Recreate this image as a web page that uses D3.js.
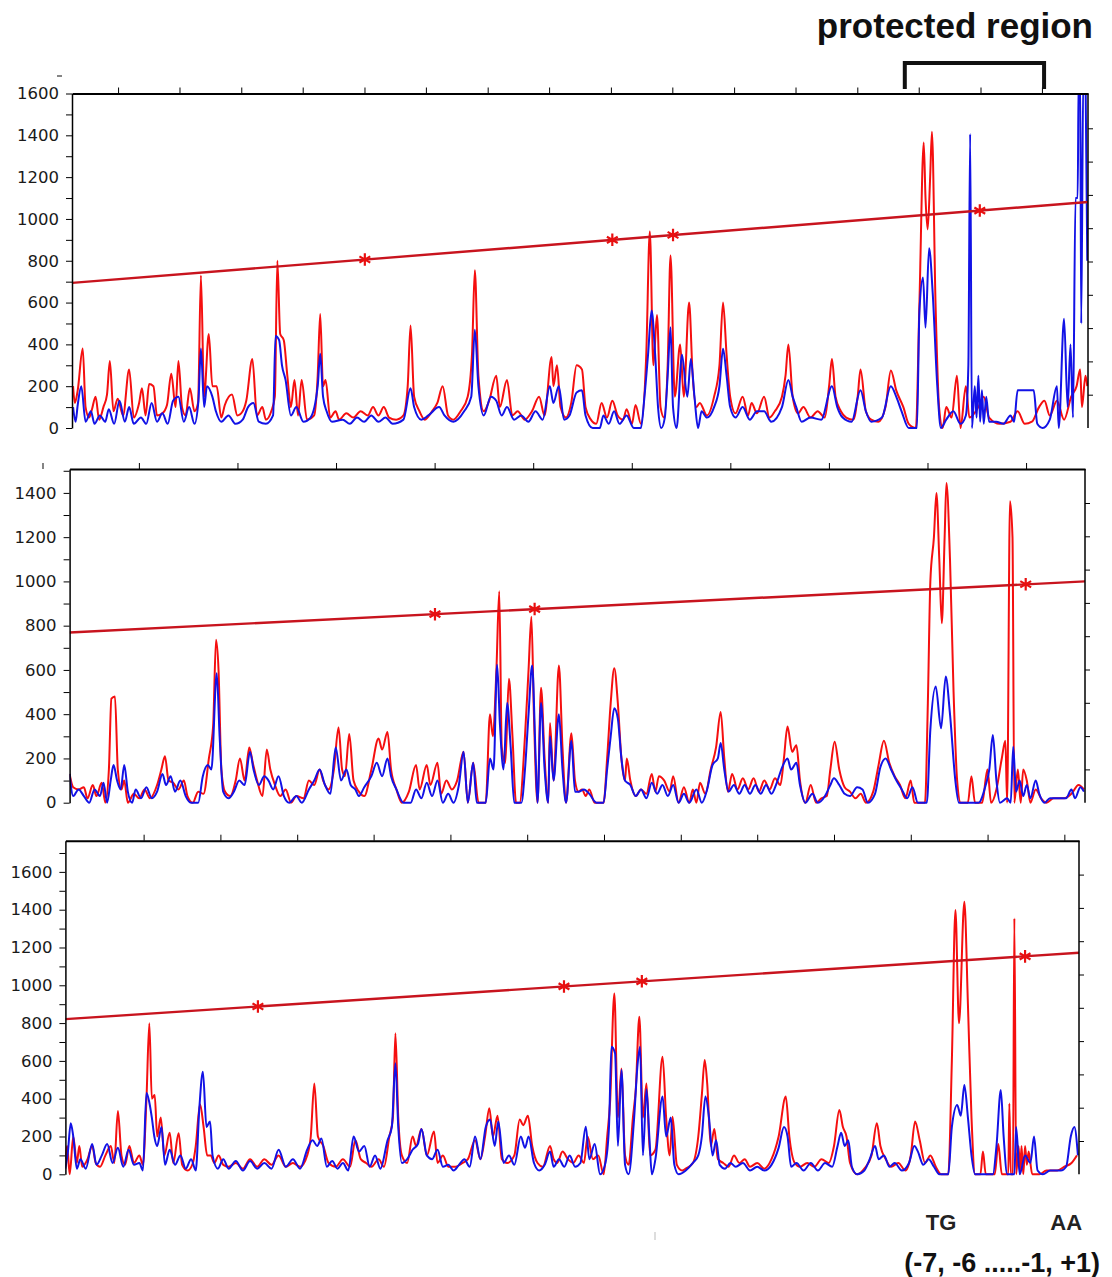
<!DOCTYPE html>
<html>
<head>
<meta charset="utf-8">
<script src="https://cdn.jsdelivr.net/npm/d3@7"></script>
<style>
  body { margin: 0; background: #fff; }
  svg { display: block; }
</style>
</head>
<body>
<div id="chart"></div>
<script>
// ---- data (x = scan point, y = signal) ----
const p1Red = [[3,200],[8,120],[16,180],[30,380],[38,100],[48,50],[56,90],[66,150],[76,40],[88,100],[98,160],[106,320],[116,80],[128,140],[143,60],[160,280],[173,50],[188,120],[196,190],[206,60],[216,210],[228,200],[238,60],[253,70],[266,110],[278,260],[290,100],[298,320],[308,100],[318,60],[330,190],[343,80],[353,120],[361,730],[370,150],[383,450],[393,200],[405,200],[418,50],[428,110],[448,160],[463,60],[478,80],[488,130],[505,330],[518,60],[533,100],[543,40],[558,80],[568,150],[575,800],[583,450],[593,420],[603,250],[613,100],[623,230],[633,60],[643,230],[658,40],[678,60],[688,250],[695,545],[703,200],[710,230],[723,50],[738,80],[748,40],[768,70],[788,50],[808,80],[828,60],[843,100],[858,60],[873,100],[888,50],[908,40],[928,60],[940,200],[948,490],[958,150],[973,80],[988,40],[1008,80],[1023,120],[1038,200],[1053,60],[1068,40],[1088,80],[1108,150],[1120,350],[1128,755],[1138,250],[1153,80],[1168,130],[1188,250],[1198,100],[1218,230],[1233,60],[1248,80],[1268,40],[1288,80],[1308,150],[1323,60],[1343,340],[1348,200],[1358,300],[1368,100],[1383,50],[1398,120],[1413,300],[1428,280],[1438,100],[1453,40],[1468,20],[1483,120],[1498,50],[1513,130],[1528,60],[1543,40],[1553,90],[1568,20],[1578,110],[1593,20],[1608,350],[1618,940],[1628,300],[1638,540],[1648,100],[1658,50],[1668,300],[1676,825],[1688,150],[1703,400],[1713,150],[1728,600],[1738,250],[1748,100],[1758,120],[1778,60],[1798,150],[1813,300],[1823,600],[1833,350],[1843,150],[1858,70],[1878,150],[1893,60],[1903,120],[1918,70],[1938,150],[1953,50],[1968,80],[1988,150],[1998,250],[2006,400],[2018,150],[2033,70],[2048,100],[2068,50],[2088,80],[2108,50],[2120,200],[2128,330],[2138,150],[2153,80],[2168,50],[2188,40],[2200,150],[2208,280],[2223,80],[2238,40],[2258,30],[2278,100],[2293,275],[2308,180],[2328,100],[2343,20],[2363,0],[2373,600],[2385,1366],[2390,1100],[2396,950],[2403,1200],[2408,1417],[2418,600],[2428,100],[2438,0],[2448,100],[2463,50],[2478,250],[2488,0],[2503,200],[2513,50],[2538,100],[2553,150],[2568,50],[2598,20],[2628,30],[2648,80],[2668,20],[2688,30],[2708,100],[2723,130],[2738,60],[2758,130],[2778,40],[2798,150],[2813,200],[2823,280],[2828,100],[2838,250],[2843,200]];
const p1Blue = [[3,100],[10,30],[16,110],[26,200],[38,30],[53,80],[63,20],[78,60],[93,30],[103,90],[118,20],[133,130],[148,30],[160,100],[173,20],[193,50],[208,20],[223,120],[238,30],[253,70],[268,20],[283,130],[298,150],[313,30],[328,100],[343,20],[354,130],[361,380],[370,100],[378,200],[393,150],[403,80],[418,30],[438,60],[458,20],[478,40],[493,100],[508,120],[523,30],[543,20],[563,60],[570,440],[580,420],[588,300],[598,230],[613,60],[628,100],[648,30],[668,50],[688,200],[695,355],[703,150],[713,80],[728,30],[758,40],[778,20],[798,50],[818,30],[838,60],[858,30],[878,50],[898,20],[928,40],[948,190],[958,100],[978,40],[998,60],[1028,100],[1043,60],[1068,30],[1098,80],[1118,150],[1128,470],[1138,200],[1153,60],[1173,150],[1188,130],[1203,60],[1218,100],[1238,40],[1258,60],[1278,30],[1298,80],[1318,40],[1338,200],[1348,120],[1363,200],[1378,40],[1393,60],[1413,170],[1428,180],[1438,60],[1458,0],[1478,0],[1488,60],[1503,20],[1518,80],[1533,20],[1553,60],[1573,0],[1593,0],[1603,150],[1613,350],[1623,562],[1633,350],[1641,100],[1650,0],[1660,50],[1668,250],[1676,482],[1683,100],[1693,0],[1708,350],[1723,150],[1733,330],[1743,150],[1753,0],[1763,80],[1778,50],[1798,100],[1813,200],[1823,379],[1833,250],[1843,100],[1858,50],[1878,100],[1898,40],[1918,80],[1938,80],[1958,30],[1988,100],[2006,230],[2018,150],[2028,100],[2043,30],[2068,50],[2098,40],[2128,200],[2143,100],[2158,50],[2183,30],[2208,180],[2223,80],[2238,30],[2268,50],[2293,200],[2308,150],[2323,80],[2343,0],[2366,0],[2373,560],[2383,720],[2390,480],[2400,860],[2410,650],[2423,200],[2433,0],[2448,40],[2468,80],[2488,20],[2503,60],[2510,300],[2515,1406],[2520,0],[2528,200],[2533,50],[2538,250],[2543,30],[2548,180],[2553,20],[2560,150],[2568,30],[2588,30],[2608,20],[2628,60],[2638,30],[2648,180],[2693,180],[2703,20],[2718,0],[2738,40],[2758,200],[2763,0],[2778,522],[2788,100],[2796,400],[2803,50],[2810,1100],[2816,1100],[2819,1700],[2823,1700],[2826,500],[2832,1700],[2838,1700],[2843,800]];

const p2Red = [[0,130],[10,70],[25,60],[40,70],[50,20],[65,80],[75,30],[90,90],[100,0],[110,150],[117,470],[127,480],[135,150],[145,60],[153,100],[163,0],[180,40],[195,20],[210,60],[225,20],[245,80],[257,150],[267,210],[277,100],[290,90],[305,60],[320,100],[330,30],[345,0],[360,50],[375,40],[390,200],[402,350],[410,736],[417,600],[425,150],[435,50],[450,30],[465,100],[477,200],[490,100],[503,250],[513,180],[525,100],[540,30],[552,240],[562,150],[575,80],[590,30],[605,60],[620,0],[635,30],[655,20],[670,100],[685,80],[700,150],[710,100],[725,60],[740,150],[753,340],[763,150],[771,120],[783,310],[795,100],[810,50],[825,30],[845,150],[865,290],[875,240],[890,320],[900,150],[915,60],[930,0],[950,50],[970,170],[980,60],[1000,170],[1010,80],[1030,180],[1040,40],[1055,100],[1070,60],[1085,100],[1103,230],[1115,0],[1130,180],[1145,0],[1165,0],[1177,400],[1185,300],[1195,600],[1203,955],[1210,250],[1220,180],[1230,560],[1240,300],[1250,0],[1260,0],[1275,300],[1285,600],[1293,840],[1300,400],[1310,0],[1320,520],[1330,200],[1340,0],[1345,360],[1355,100],[1370,620],[1380,250],[1390,0],[1405,314],[1415,100],[1425,50],[1435,60],[1445,30],[1455,60],[1470,0],[1495,0],[1505,200],[1515,450],[1525,608],[1535,450],[1545,200],[1555,100],[1560,200],[1570,100],[1585,30],[1600,60],[1615,40],[1630,130],[1640,50],[1650,120],[1665,100],[1680,50],[1690,120],[1705,0],[1720,70],[1735,0],[1745,60],[1755,0],[1765,90],[1780,40],[1795,150],[1810,250],[1823,410],[1833,200],[1843,50],[1855,130],[1870,60],[1885,110],[1900,60],[1915,110],[1930,50],[1945,100],[1960,60],[1975,110],[1990,80],[2000,200],[2010,344],[2023,230],[2035,260],[2045,100],[2060,0],[2075,80],[2090,0],[2105,20],[2120,30],[2130,150],[2142,276],[2155,150],[2170,70],[2185,50],[2200,20],[2215,40],[2230,0],[2250,50],[2265,170],[2280,280],[2295,180],[2310,120],[2325,80],[2340,20],[2355,100],[2365,0],[2395,0],[2403,450],[2410,1000],[2420,1200],[2427,1400],[2435,1100],[2442,811],[2450,1200],[2455,1445],[2465,1100],[2475,500],[2485,100],[2495,0],[2515,0],[2525,120],[2535,0],[2555,0],[2570,150],[2580,0],[2595,60],[2610,200],[2620,280],[2625,0],[2633,1362],[2640,1200],[2645,0],[2655,150],[2663,0],[2670,150],[2680,100],[2690,0],[2705,60],[2720,20],[2735,0],[2755,20],[2785,20],[2805,40],[2825,80],[2840,60]];
const p2Blue = [[0,130],[10,30],[25,60],[40,30],[55,0],[70,60],[85,30],[95,90],[105,0],[115,100],[123,170],[133,100],[143,60],[153,170],[163,50],[175,0],[185,60],[200,20],[215,70],[230,20],[245,50],[260,130],[270,80],[283,120],[295,50],[310,100],[325,30],[340,0],[360,0],[373,120],[387,170],[397,150],[412,585],[420,300],[430,50],[445,20],[460,50],[475,100],[490,80],[505,230],[515,150],[530,80],[545,120],[557,100],[570,60],[585,120],[600,30],[615,0],[635,30],[650,0],[670,60],[685,100],[700,150],[715,80],[730,40],[745,250],[760,100],[775,150],[787,80],[800,60],[810,30],[825,70],[845,120],[860,180],[875,120],[890,200],[900,120],[915,60],[935,0],[955,0],[970,60],[985,20],[1000,90],[1015,30],[1030,100],[1045,0],[1060,40],[1075,0],[1090,80],[1103,230],[1115,0],[1130,180],[1140,0],[1165,0],[1177,200],[1187,150],[1197,623],[1205,350],[1215,150],[1225,450],[1235,250],[1245,0],[1265,0],[1275,150],[1285,400],[1295,620],[1305,200],[1310,0],[1320,450],[1330,150],[1340,0],[1345,300],[1355,100],[1370,400],[1380,150],[1390,0],[1405,280],[1415,50],[1425,50],[1440,60],[1455,40],[1475,0],[1495,0],[1505,150],[1515,300],[1525,427],[1535,380],[1545,200],[1555,100],[1570,80],[1585,30],[1600,60],[1615,20],[1630,90],[1645,40],[1660,80],[1675,30],[1690,80],[1705,0],[1720,40],[1735,0],[1755,60],[1770,0],[1785,60],[1800,170],[1815,200],[1823,270],[1833,150],[1845,50],[1860,80],[1875,40],[1890,80],[1905,40],[1920,80],[1935,40],[1950,80],[1965,40],[1980,90],[1995,160],[2010,200],[2020,150],[2035,180],[2045,80],[2060,0],[2080,40],[2095,0],[2115,30],[2130,80],[2140,110],[2155,80],[2170,40],[2185,30],[2205,70],[2220,60],[2235,0],[2255,40],[2270,160],[2285,200],[2300,150],[2315,100],[2330,60],[2345,20],[2360,70],[2375,0],[2400,0],[2410,330],[2425,525],[2440,336],[2453,570],[2465,400],[2480,100],[2490,0],[2545,0],[2565,80],[2575,150],[2585,306],[2595,100],[2605,0],[2625,20],[2635,0],[2642,253],[2650,50],[2660,100],[2670,30],[2680,80],[2690,20],[2705,100],[2715,40],[2730,0],[2745,20],[2765,20],[2790,20],[2805,60],[2815,20],[2830,70],[2840,50]];

const p3Red = [[0,80],[5,150],[12,0],[22,200],[32,60],[39,150],[47,40],[62,80],[75,150],[85,60],[97,40],[112,100],[127,150],[137,60],[147,335],[157,100],[167,50],[179,150],[192,60],[207,100],[217,50],[227,400],[235,799],[242,400],[250,420],[257,200],[267,300],[277,100],[292,220],[302,60],[317,217],[327,50],[342,20],[357,60],[365,150],[377,370],[387,250],[397,100],[407,100],[417,60],[429,100],[442,50],[457,40],[477,60],[497,30],[517,80],[537,40],[557,80],[577,50],[597,100],[617,40],[637,60],[657,40],[677,100],[687,200],[697,481],[707,200],[722,150],[737,60],[757,40],[777,80],[797,40],[812,180],[827,80],[842,60],[857,40],[877,80],[892,40],[907,200],[917,300],[924,746],[932,300],[942,100],[957,60],[972,200],[982,150],[997,240],[1012,100],[1032,226],[1042,60],[1057,100],[1072,40],[1092,40],[1112,60],[1127,80],[1147,180],[1162,80],[1175,200],[1187,349],[1197,200],[1210,310],[1222,80],[1237,60],[1257,100],[1272,290],[1282,260],[1295,310],[1307,150],[1322,60],[1337,40],[1357,150],[1367,80],[1377,60],[1392,120],[1407,80],[1422,60],[1437,100],[1452,60],[1462,200],[1477,80],[1492,100],[1507,0],[1517,200],[1525,379],[1537,957],[1547,300],[1557,560],[1567,100],[1577,50],[1589,300],[1597,450],[1607,834],[1617,300],[1627,480],[1637,100],[1652,130],[1672,622],[1682,300],[1692,100],[1700,305],[1712,50],[1727,20],[1737,30],[1757,60],[1772,200],[1782,420],[1790,605],[1797,480],[1807,150],[1817,240],[1827,80],[1842,60],[1857,40],[1872,100],[1887,60],[1902,80],[1917,40],[1937,60],[1957,30],[1977,80],[1997,200],[2017,411],[2027,200],[2042,60],[2057,40],[2077,60],[2097,40],[2117,80],[2137,60],[2152,150],[2167,340],[2177,250],[2187,200],[2197,60],[2217,0],[2237,30],[2257,100],[2272,270],[2282,150],[2297,80],[2312,40],[2332,60],[2352,20],[2367,100],[2379,280],[2392,180],[2407,60],[2422,100],[2437,40],[2452,0],[2472,0],[2482,600],[2492,1398],[2502,799],[2517,1442],[2527,900],[2537,300],[2547,0],[2562,0],[2569,120],[2577,0],[2602,0],[2612,160],[2622,0],[2640,0],[2643,375],[2647,0],[2653,0],[2657,1354],[2662,0],[2669,150],[2673,0],[2677,150],[2682,0],[2687,150],[2692,50],[2697,120],[2707,0],[2727,0],[2747,20],[2777,20],[2797,40],[2817,60],[2832,100]];
const p3Blue = [[0,30],[7,120],[15,270],[22,200],[32,30],[42,80],[57,30],[75,160],[87,50],[102,100],[117,160],[132,60],[147,140],[162,40],[177,130],[192,50],[207,60],[217,20],[227,430],[235,380],[242,300],[249,200],[257,150],[269,250],[279,50],[292,130],[307,50],[322,100],[337,30],[352,80],[365,20],[375,350],[385,543],[395,250],[405,280],[412,100],[427,30],[442,80],[457,30],[477,70],[497,20],[517,70],[537,30],[557,60],[577,30],[597,130],[617,40],[637,80],[657,30],[677,130],[692,180],[705,150],[717,190],[732,40],[747,70],[762,30],[777,60],[792,20],[807,200],[822,120],[837,150],[852,40],[867,100],[882,30],[902,180],[914,250],[924,587],[932,250],[942,60],[957,80],[972,130],[987,160],[997,240],[1012,100],[1027,80],[1042,130],[1057,40],[1072,50],[1087,20],[1102,50],[1117,80],[1132,40],[1147,200],[1162,80],[1177,250],[1189,290],[1202,150],[1212,280],[1227,60],[1242,100],[1257,50],[1275,200],[1287,140],[1297,200],[1312,60],[1327,20],[1342,50],[1357,120],[1367,40],[1382,80],[1397,40],[1412,100],[1427,40],[1442,60],[1457,252],[1467,80],[1482,160],[1497,0],[1512,60],[1522,250],[1529,675],[1539,640],[1547,150],[1557,552],[1567,50],[1577,0],[1592,287],[1602,580],[1609,675],[1617,100],[1627,450],[1635,200],[1642,0],[1652,80],[1672,411],[1682,200],[1695,300],[1705,50],[1717,0],[1737,20],[1757,60],[1772,100],[1782,200],[1792,411],[1802,300],[1812,100],[1822,180],[1832,50],[1847,30],[1862,60],[1877,40],[1897,60],[1917,20],[1937,40],[1957,20],[1977,50],[1997,140],[2012,250],[2022,200],[2032,40],[2047,60],[2067,20],[2087,60],[2107,20],[2127,60],[2147,40],[2162,150],[2172,220],[2182,150],[2192,180],[2202,40],[2217,0],[2237,20],[2252,80],[2267,150],[2277,80],[2292,100],[2307,40],[2322,60],[2342,20],[2362,60],[2377,150],[2387,120],[2402,50],[2417,80],[2432,40],[2447,0],[2472,0],[2482,250],[2497,367],[2507,310],[2517,472],[2527,300],[2537,100],[2547,0],[2597,0],[2607,150],[2619,446],[2627,200],[2637,0],[2657,0],[2662,250],[2672,0],[2687,100],[2702,60],[2712,200],[2722,20],[2737,0],[2757,20],[2787,20],[2802,40],[2815,200],[2825,250],[2835,100]];

// calibration line and its marked points
const p1Trend = [[0,694],[2845,1081]];
const p2Trend = [[0,769],[2843,1000]];
const p3Trend = [[0,821],[2838,1172]];
const p1Stars = [[820,806],[1513,900],[1683,923],[2542,1040]];
const p2Stars = [[1023,852],[1302,875],[2677,987]];
const p3Stars = [[539,888],[1396,994],[1614,1021],[2687,1153]];

// tick positions
const p1TopTicks = [129,301,474,646,819,991,1164,1336,1509,1681,1854,2026,2199,2371,2544,2716];
const p2TopTicks = [194,470,746,1022,1298,1574,1850,2126,2402,2678];
const p3TopTicks = [219,434,649,863,1078,1293,1508,1723,1937,2152,2367,2582,2797];
const p1YTicks = [0,100,200,300,400,500,600,700,800,900,1000,1100,1200,1300,1400,1500,1600];
const p2YTicks = [0,100,200,300,400,500,600,700,800,900,1000,1100,1200,1300,1400,1500];
const p3YTicks = [0,100,200,300,400,500,600,700,800,900,1000,1100,1200,1300,1400,1500,1600,1700];
const rightTicks = [1,2,3,4,5,6,7,8,9];

// annotation positions (scan units of panel 1 / panel 3)
const bracketScan = [2332, 2722];
const siteLabels = [{ scan: 2452, text: 'TG' }, { scan: 2802, text: 'AA' }];

const width = 1112
const height = 1277

const svg = d3.select('#chart')
  .append('svg')
  .attr('width', width)
  .attr('height', height)
  .style('background-color', '#fff')

function renderPanel(id, layout, red, blue, trend, stars, topTicks, yTicks) {
  const x = d3.scaleLinear().domain([0, layout.span]).range([layout.left, layout.right])
  const y = d3.scaleLinear().domain([0, layout.yMax]).range([layout.zero, layout.top])
  const yRight = d3.scaleLinear().domain([0, 10]).range([layout.zero, layout.zero - 333])

  const g = svg.append('g').attr('class', 'panel-' + id)

  g.append('clipPath').attr('id', 'clip-' + id)
    .append('rect')
    .attr('x', layout.left)
    .attr('y', layout.top)
    .attr('width', layout.right - layout.left)
    .attr('height', layout.zero - layout.top + 2)

  const trace = d3.line().x(d => x(d[0])).y(d => y(d[1])).curve(d3.curveMonotoneX)
  const straight = d3.line().x(d => x(d[0])).y(d => y(d[1]))

  const traces = g.append('g').attr('clip-path', `url(#clip-${id})`)
  traces.append('path').datum(red)
    .attr('d', trace).attr('fill', 'none')
    .attr('stroke', '#f50f0f').attr('stroke-width', 2).attr('stroke-linejoin', 'round')
  traces.append('path').datum(blue)
    .attr('d', trace).attr('fill', 'none')
    .attr('stroke', '#1212e6').attr('stroke-width', 2).attr('stroke-linejoin', 'round')
  traces.append('path').datum(trend)
    .attr('d', straight).attr('fill', 'none')
    .attr('stroke', '#c8141e').attr('stroke-width', 2.4)
  traces.selectAll('.star').data(stars).join('path')
    .attr('class', 'star')
    .attr('transform', d => `translate(${x(d[0])},${y(d[1])})`)
    .attr('d', d3.symbol().type(d3.symbolAsterisk).size(110))
    .attr('fill', 'none')
    .attr('stroke', '#e81010').attr('stroke-width', 2.2)

  // left axis
  const yAxis = d3.axisLeft(y)
    .tickValues(yTicks)
    .tickSize(6)
    .tickSizeOuter(0)
    .tickPadding(7)
    .tickFormat(d => d % 200 === 0 ? d : '')
  const ya = g.append('g').attr('transform', `translate(${layout.left},0)`).call(yAxis)
  ya.selectAll('text')
    .style('font-family', '"DejaVu Sans", Verdana, sans-serif')
    .style('font-size', '16.5px')
    .attr('fill', '#1a1a1a')
  ya.select('.domain').attr('stroke-width', 1.5)

  // top axis = upper frame
  const xAxis = d3.axisTop(x).tickValues(topTicks).tickSize(6).tickSizeOuter(0).tickFormat('')
  g.append('g').attr('transform', `translate(0,${layout.top})`).call(xAxis)
    .select('.domain').attr('stroke-width', 2)

  // right frame with its own ticks
  const rAxis = d3.axisRight(yRight).tickValues(rightTicks).tickSize(5).tickSizeOuter(0).tickFormat('')
  const ra = g.append('g').attr('transform', `translate(${layout.right},0)`).call(rAxis)
  ra.select('.domain').remove()
  g.append('line')
    .attr('x1', layout.right).attr('x2', layout.right)
    .attr('y1', layout.top).attr('y2', layout.zero)
    .attr('stroke', '#000').attr('stroke-width', 1.5)

  return x
}

const x1 = renderPanel(1, { left: 72, right: 1088, top: 93.5, zero: 428, span: 2845, yMax: 1600 },
  p1Red, p1Blue, p1Trend, p1Stars, p1TopTicks, p1YTicks)
renderPanel(2, { left: 69.6, right: 1085, top: 469, zero: 802.7, span: 2843, yMax: 1508 },
  p2Red, p2Blue, p2Trend, p2Stars, p2TopTicks, p2YTicks)
const x3 = renderPanel(3, { left: 65.4, right: 1079, top: 840.7, zero: 1174.3, span: 2838, yMax: 1765 },
  p3Red, p3Blue, p3Trend, p3Stars, p3TopTicks, p3YTicks)

// header and bracket over the protected region
svg.append('text')
  .attr('x', 1093).attr('y', 38)
  .attr('text-anchor', 'end')
  .style('font-family', '"Liberation Sans", Arial, sans-serif')
  .style('font-weight', 'bold')
  .style('font-size', '35px')
  .attr('fill', '#111')
  .text('protected region')

svg.append('path')
  .attr('d', `M${x1(bracketScan[0])},89 V63 H${x1(bracketScan[1])} V89`)
  .attr('fill', 'none')
  .attr('stroke', '#111')
  .attr('stroke-width', 4)

// site labels under the bottom panel
svg.selectAll('.site').data(siteLabels).join('text')
  .attr('class', 'site')
  .attr('x', d => x3(d.scan)).attr('y', 1230)
  .attr('text-anchor', 'middle')
  .style('font-family', '"Liberation Sans", Arial, sans-serif')
  .style('font-weight', 'bold')
  .style('font-size', '22px')
  .attr('fill', '#222')
  .text(d => d.text)

svg.append('text')
  .attr('x', 1100).attr('y', 1272)
  .attr('text-anchor', 'end')
  .style('font-family', '"Liberation Sans", Arial, sans-serif')
  .style('font-weight', 'bold')
  .style('font-size', '27px')
  .attr('fill', '#111')
  .text('(-7, -6 .....-1, +1)')

// stray marks in the original scan
svg.append('line').attr('x1', 57).attr('x2', 62).attr('y1', 76).attr('y2', 76).attr('stroke', '#333').attr('stroke-width', 1.2)
svg.append('line').attr('x1', 43).attr('x2', 43).attr('y1', 463).attr('y2', 469).attr('stroke', '#333').attr('stroke-width', 1.2)
svg.append('line').attr('x1', 655).attr('x2', 655).attr('y1', 1232).attr('y2', 1240).attr('stroke', '#bbb').attr('stroke-width', 1)
</script>
</body>
</html>
